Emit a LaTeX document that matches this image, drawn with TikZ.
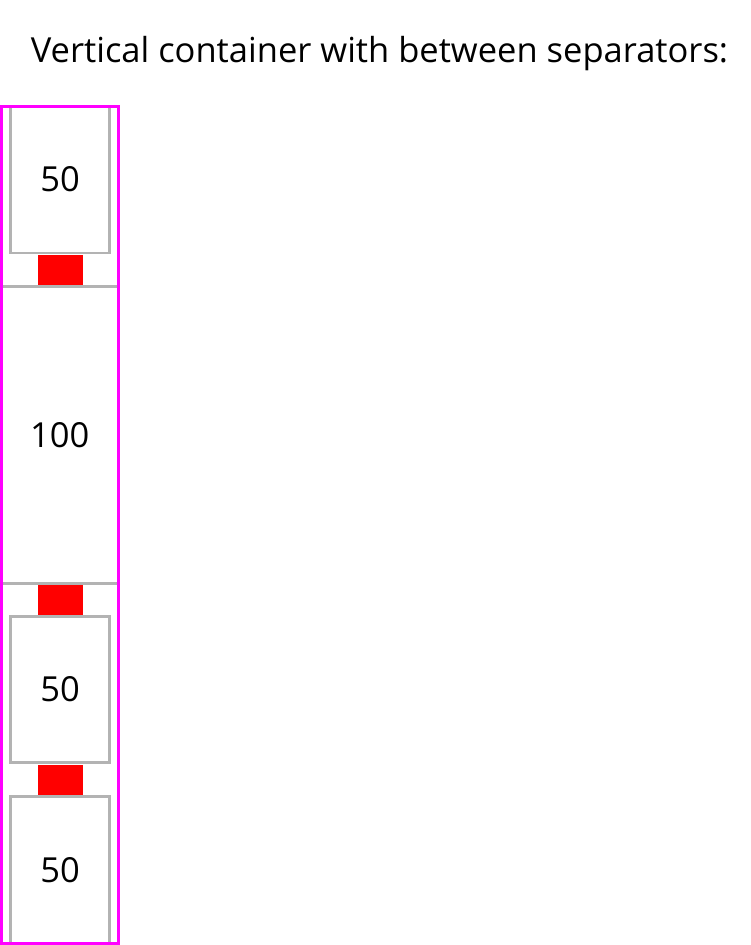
\documentclass[tikz,border=0pt]{standalone}
\usepackage{fontspec}
\setmainfont{Open Sans}
\definecolor{boxgray}{HTML}{B3B3B3}
\definecolor{sepred}{HTML}{FF0000}
\definecolor{contmag}{HTML}{FF00FF}
\tikzset{
  cell/.style={draw=boxgray, line width=2.8pt, fill=white, inner sep=0pt, font=\fontsize{34.5}{40}\selectfont},
  sep/.style={fill=sepred, draw=none, inner sep=0pt, minimum width=45pt, minimum height=30pt},
  cont/.style={draw=contmag, line width=3pt, inner sep=0pt},
  title/.style={font=\fontsize{34.5}{40}\selectfont, anchor=base, inner sep=0pt}
}
\begin{document}
\begin{tikzpicture}[x=1pt,y=-1pt]
\useasboundingbox (0,0) rectangle (750,945);
\node[title] (t) at (379.5,62) {Vertical container with between separators:};
\node[cell, minimum width=99.2pt, minimum height=147pt] (b1) at (60.1,179.5) {50};
\node[sep] (s1) at (60.5,269.5) {};
\node[cell, minimum width=116.7pt, minimum height=297pt] (b2) at (59.65,435) {100};
\node[sep] (s2) at (60.5,600) {};
\node[cell, minimum width=99.2pt, minimum height=145.6pt] (b3) at (60.1,689.5) {50};
\node[sep] (s3) at (60.5,780) {};
\node[cell, minimum width=99.2pt, minimum height=146.7pt] (b4) at (60.1,869.65) {50};
\node[cont, minimum width=116.7pt, minimum height=837pt] (c) at (59.65,524.5) {};
\end{tikzpicture}
\end{document}
